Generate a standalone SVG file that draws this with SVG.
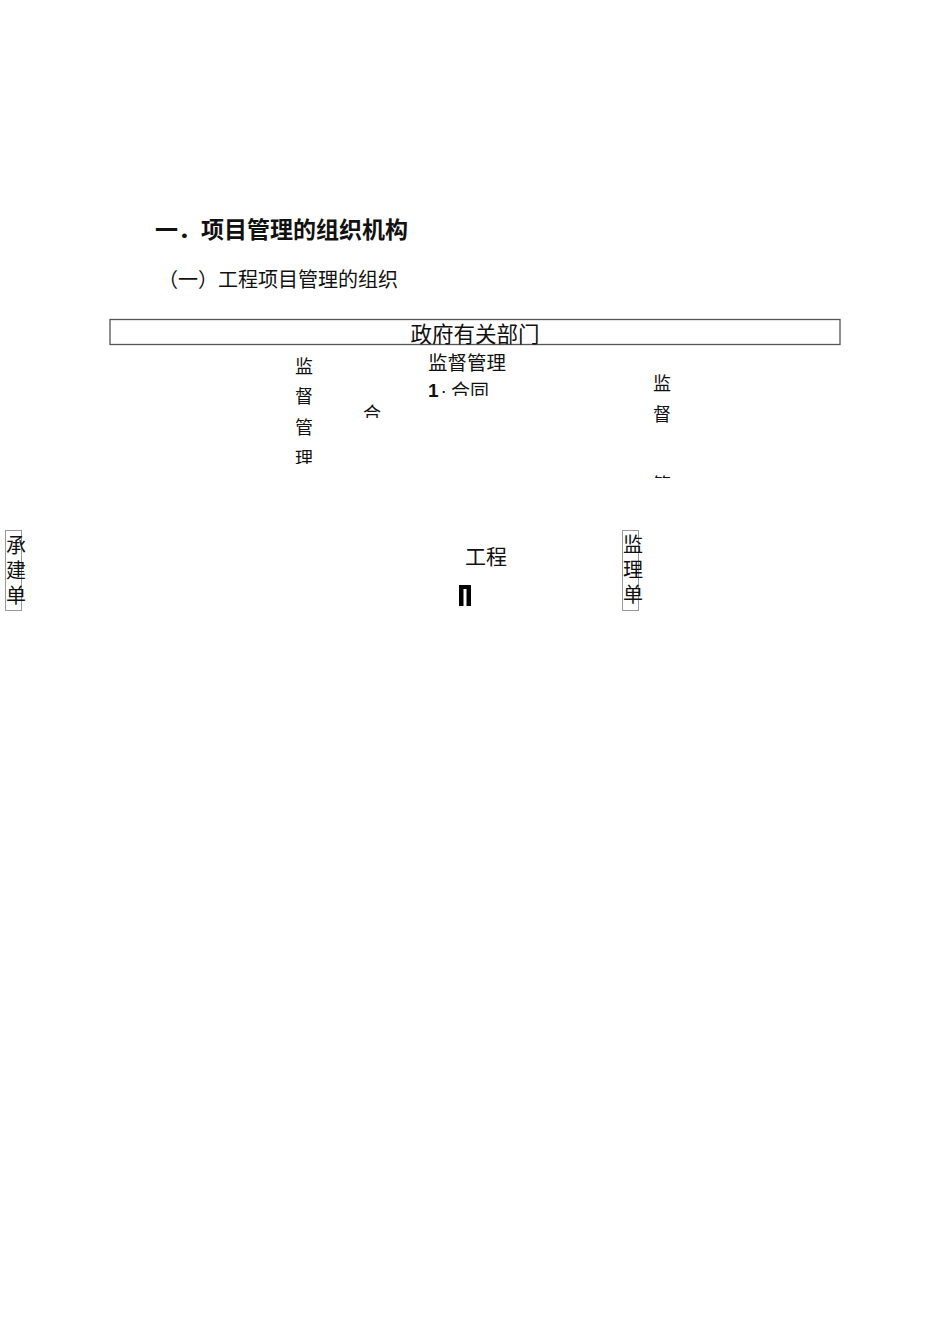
<svg xmlns="http://www.w3.org/2000/svg" width="950" height="1344" viewBox="0 0 950 1344">
<style>
.t{font-family:"Liberation Sans","Noto Sans CJK SC",sans-serif;fill:#111}
.box{fill:none;stroke:#555;stroke-width:1.3}
.sbox{fill:none;stroke:#999;stroke-width:1}
</style>
<defs>
<clipPath id="c1"><rect x="280" y="350" width="50" height="114"/></clipPath>
<clipPath id="c2"><rect x="355" y="395" width="40" height="23"/></clipPath>
<clipPath id="c3"><rect x="440" y="375" width="70" height="21"/></clipPath>
<clipPath id="c4"><rect x="640" y="365" width="50" height="113"/></clipPath>
<clipPath id="c5"><rect x="0" y="528" width="40" height="80"/></clipPath>
<clipPath id="c6"><rect x="610" y="528" width="50" height="80"/></clipPath>
</defs>
<rect width="950" height="1344" fill="#fff"/>
<g id="title">
<text class="t" x="155" y="238" font-size="23" font-weight="bold">一．项目管理的组织机构</text>
<text class="t" x="158" y="287" font-size="20" fill="#222">（一）工程项目管理的组织</text>
</g>
<g id="gov">
<rect class="box" x="110" y="319.5" width="730" height="25"/>
<text class="t" x="475" y="342" font-size="21.5" text-anchor="middle">政府有关部门</text>
</g>
<g id="labels">
<g clip-path="url(#c1)">
<text class="t" x="304" y="373" font-size="18" text-anchor="middle">监</text>
<text class="t" x="304" y="403" font-size="18" text-anchor="middle">督</text>
<text class="t" x="304" y="434" font-size="18" text-anchor="middle">管</text>
<text class="t" x="304" y="465" font-size="18" text-anchor="middle">理</text>
</g>
<g clip-path="url(#c2)"><text class="t" x="372" y="420" font-size="18" text-anchor="middle">合</text></g>
<text class="t" x="428" y="370" font-size="19.5">监督管理</text>
<text class="t" x="428" y="397" font-size="19"><tspan font-weight="bold">1</tspan><tspan dx="2">·</tspan></text>
<g clip-path="url(#c3)"><text class="t" x="451" y="398" font-size="19">合同</text></g>
<g clip-path="url(#c4)">
<text class="t" x="662" y="390" font-size="18" text-anchor="middle">监</text>
<text class="t" x="662" y="421" font-size="18" text-anchor="middle">督</text>
<text class="t" x="662" y="491" font-size="18" text-anchor="middle">管</text>
</g>
<text class="t" x="486" y="564" font-size="21" text-anchor="middle">工程</text>
</g>
<g id="mark">
<rect x="459" y="585" width="12" height="21" fill="#000"/>
<rect x="463.5" y="589" width="3" height="17" fill="#fff"/>
</g>
<g id="contractor">
<rect class="sbox" x="5.5" y="530.5" width="16" height="80"/>
<g clip-path="url(#c5)">
<text class="t" x="16" y="553" font-size="20" text-anchor="middle">承</text>
<text class="t" x="16" y="578" font-size="20" text-anchor="middle">建</text>
<text class="t" x="16" y="603" font-size="20" text-anchor="middle">单</text>
</g>
</g>
<g id="supervisor">
<rect class="sbox" x="622.5" y="530.5" width="16" height="80"/>
<g clip-path="url(#c6)">
<text class="t" x="633" y="552" font-size="20" text-anchor="middle">监</text>
<text class="t" x="633" y="577" font-size="20" text-anchor="middle">理</text>
<text class="t" x="633" y="602" font-size="20" text-anchor="middle">单</text>
</g>
</g>
<g id="connectors"></g>
</svg>
